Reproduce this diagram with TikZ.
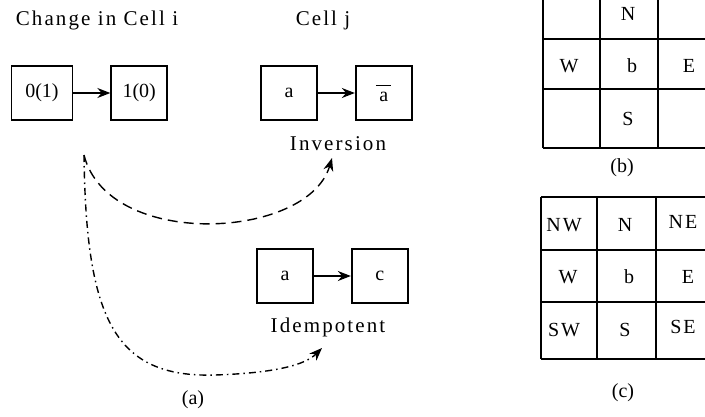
\documentclass[tikz,border=0pt]{standalone}
\usepackage{fontspec}
\setmainfont{Liberation Serif}
\newfontfamily\wideserif[LetterSpace=10]{Liberation Serif}
\usetikzlibrary{arrows.meta,positioning}

\begin{document}
\begin{tikzpicture}[x=1pt,y=-1pt,font=\fontsize{20}{24}\selectfont]
 \tikzset{cell node/.style={rectangle, draw, line width=1.7pt,
 		minimum width=56pt, minimum height=54pt, inner sep=0pt,
 		text centered}, }
 \tikzset{title node/.style={font=\fontsize{21}{24}\wideserif}, }
 \tikzset{grid line/.style={line width=1.7pt},}
 \tikzset{linea/.style={-{Stealth[length=13pt,width=10pt]}, line width=1.4pt},}
 \useasboundingbox (0,0) rectangle (705,416);
 \clip (0,0) rectangle (705,416);
% (a)
 \node[title node] (ti) at (97,20) {Change in Cell i};
 \node[title node] (tj) at (323,20) {Cell j};
 \node[cell node, minimum width=61pt] (1) at (42,93) {0(1)};
 \node[cell node] (2)[right=37pt of 1] {1(0)};
 \node[cell node] (3) at (289,93) {a};
 \node[cell node] (4)[right=37pt of 3]
 	{$\overline{\hbox{\,a\,}\vphantom{l}}$};
 \node[title node] (inv) at (338,144) {Inversion};
 \node[cell node] (5) at (285,276) {a};
 \node[cell node] (6)[right=37pt of 5] {c};
 \node[title node] (idem) at (328,327) {Idempotent};
 \node (la) at (193,400) {(a)};
 \foreach \x /\y in{1/2,3/4,5/6}
 \path[linea] (\x) edge node {} (\y);
 \coordinate (src) at (84,155);
 \coordinate (invtip) at (332,158);
 \coordinate (idemtip) at (322,348);
 \draw[linea, dash pattern=on 10pt off 6pt] (src)
 	.. controls (108,250) and (308,240) .. (invtip);
 \draw[linea, dash pattern=on 7pt off 4pt on 1.5pt off 4pt] (src)
 	.. controls (86,320) and (115,378) .. (215,375)
 	.. controls (275,373) and (305,365) .. (idemtip);
% (b)
 \foreach \x in {543,600,658}
 \draw[grid line] (\x,-5) -- (\x,148);
 \foreach \y in {39,89,148}
 \draw[grid line] (543,\y) -- (715,\y);
 \foreach \n /\p /\t in {bN/{628,14}/N, bW/{569,66}/W, bb/{632,66}/b,
 	bE/{689,66}/E, bS/{628,119}/S}
 \node (\n) at (\p) {\t};
 \node (lb) at (622,168) {(b)};
% (c)
 \foreach \x in {541,597,656}
 \draw[grid line] (\x,197) -- (\x,359);
 \foreach \y in {197,250,302,359}
 \draw[grid line] (541,\y) -- (715,\y);
 \foreach \n /\p /\t in {cNW/{564,225}/NW, cN/{625,225}/N, cNE/{683,222}/NE,
 	cW/{568,277}/W, cb/{629,277}/b, cE/{688,277}/E,
 	cSW/{564,330}/SW, cS/{625,330}/S, cSE/{683,327}/SE}
 \node[font=\fontsize{20}{24}\wideserif] (\n) at (\p) {\t};
 \node (lc) at (623,393) {(c)};
% %%
\end{tikzpicture}
\end{document}
